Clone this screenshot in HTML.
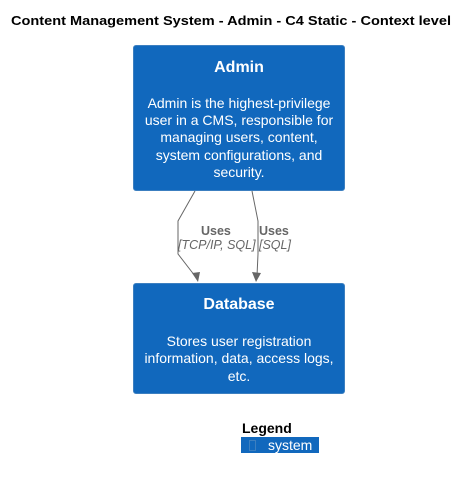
<!DOCTYPE html>
<html><head><meta charset="utf-8"><style>
html,body{margin:0;padding:0;background:#fff;width:469px;height:479px;overflow:hidden}
svg{display:block;font-family:"Liberation Sans",Arial,sans-serif}
</style></head><body>
<svg width="469" height="479" viewBox="0 0 469 479" xmlns="http://www.w3.org/2000/svg">
<text x="11" y="25" font-size="13" font-weight="bold" fill="#000" textLength="440" lengthAdjust="spacingAndGlyphs">Content Management System - Admin - C4 Static - Context level</text>
<rect x="133.5" y="45.5" width="211" height="145" rx="2.5" fill="#1168bd" stroke="#3c7fc0"/>
<text x="239" y="72" font-size="16" font-weight="bold" fill="#fff" text-anchor="middle">Admin</text>
<g font-size="14" fill="#fff" text-anchor="middle">
<text x="239" y="108">Admin is the highest-privilege</text>
<text x="239" y="125">user in a CMS, responsible for</text>
<text x="239" y="142">managing users, content,</text>
<text x="239" y="160">system configurations, and</text>
<text x="239" y="177">security.</text>
</g>
<rect x="133.5" y="283.5" width="211" height="110" rx="2.5" fill="#1168bd" stroke="#3c7fc0"/>
<text x="239" y="309" font-size="16" font-weight="bold" fill="#fff" text-anchor="middle">Database</text>
<g font-size="14" fill="#fff" text-anchor="middle">
<text x="239" y="346">Stores user registration</text>
<text x="239" y="363">information, data, access logs,</text>
<text x="239" y="381">etc.</text>
</g>
<g stroke="#666" fill="none" stroke-width="1">
<path d="M195,191 L178,221 L178,254 L195,276"/>
<path d="M252,191 L258,221 L258,254 L257,276"/>
</g>
<polygon points="198,282 192,273 200,272" fill="#666"/>
<polygon points="256,282 252,272 261,273" fill="#666"/>
<g font-size="12.5" fill="#666">
<text x="201" y="235" font-weight="bold">Uses</text>
<text x="178" y="249" font-style="italic">[TCP/IP, SQL]</text>
<text x="259" y="235" font-weight="bold">Uses</text>
<text x="259" y="249" font-style="italic">[SQL]</text>
</g>
<text x="242" y="433" font-size="14" font-weight="bold" fill="#000">Legend</text>
<rect x="241" y="437" width="78" height="16" fill="#1168bd"/>
<rect x="249.5" y="440.5" width="6" height="10" fill="none" stroke="#3c7fc0"/>
<text x="268" y="450" font-size="14" fill="#fff">system</text>
</svg>
</body></html>
